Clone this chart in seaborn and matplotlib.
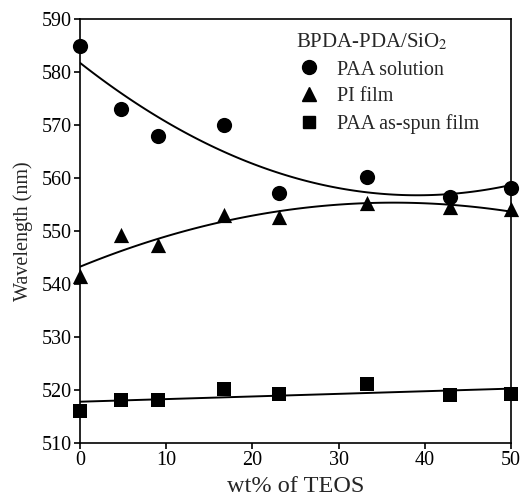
import numpy as np
import pandas as pd
import matplotlib
matplotlib.use("Agg")
import matplotlib.pyplot as plt
import seaborn as sns

teos = [0, 4.8, 9.1, 16.7, 23.1, 33.3, 42.9, 50]
paa_solution = [585.0, 573.0, 568.0, 570.0, 557.2, 560.2, 556.4, 558.2]
pi_film = [541.5, 549.2, 547.3, 553.0, 552.6, 555.3, 554.5, 554.1]
paa_spun = [516.0, 518.2, 518.2, 520.2, 519.2, 521.2, 519.0, 519.2]
labels = ["PAA solution", "PI film", "PAA as-spun film"]

sns.set_style("ticks")
plt.rcParams['font.family'] = ['Liberation Serif', 'DejaVu Serif']
plt.rcParams['mathtext.fontset'] = 'stix'

fig = plt.figure(figsize=(5.21, 5.01), dpi=100)
ax = fig.add_axes([0.1536, 0.1158, 0.8274, 0.8462])

df = pd.DataFrame({"x": teos, "sol": paa_solution, "pi": pi_film, "spun": paa_spun})

# fitted trend lines with the measured points
for col, mk, size, order in [("sol", "o", 120, 2), ("pi", "^", 120, 2), ("spun", "s", 90, 1)]:
    sns.regplot(data=df, x="x", y=col, order=order, ci=None, ax=ax, truncate=True,
                marker=mk,
                scatter_kws=dict(s=size, color="black", alpha=1, linewidths=0,
                                 clip_on=False, zorder=3),
                line_kws=dict(color="black", lw=1.4))

ax.set_xlim(0, 50)
ax.set_ylim(510, 590)
ax.set_xticks([0, 10, 20, 30, 40, 50])
ax.set_yticks(np.arange(510, 591, 10))
ax.tick_params(axis="both", labelsize=14.5, direction="out", length=4, width=1.2,
               color="black", labelcolor="black", pad=2)
for s in ax.spines.values():
    s.set_linewidth(1.2)
    s.set_color("black")
ax.set_xlabel("wt% of TEOS", fontsize=17.5, labelpad=4)
ax.set_ylabel("Wavelength (nm)", fontsize=14.5, labelpad=6)

handles = [
    plt.Line2D([], [], marker="o", color="black", ls="none", markersize=10),
    plt.Line2D([], [], marker="^", color="black", ls="none", markersize=10),
    plt.Line2D([], [], marker="s", color="black", ls="none", markersize=8),
]
leg = ax.legend(handles, labels,
                title="BPDA-PDA/SiO$_2$", loc="upper left", frameon=False,
                fontsize=14.5, title_fontsize=15, handletextpad=0.8,
                handlelength=1.2, labelspacing=0.38, alignment="left",
                bbox_to_anchor=(0.46, 1.012))

fig.savefig("out.png", dpi=100)
